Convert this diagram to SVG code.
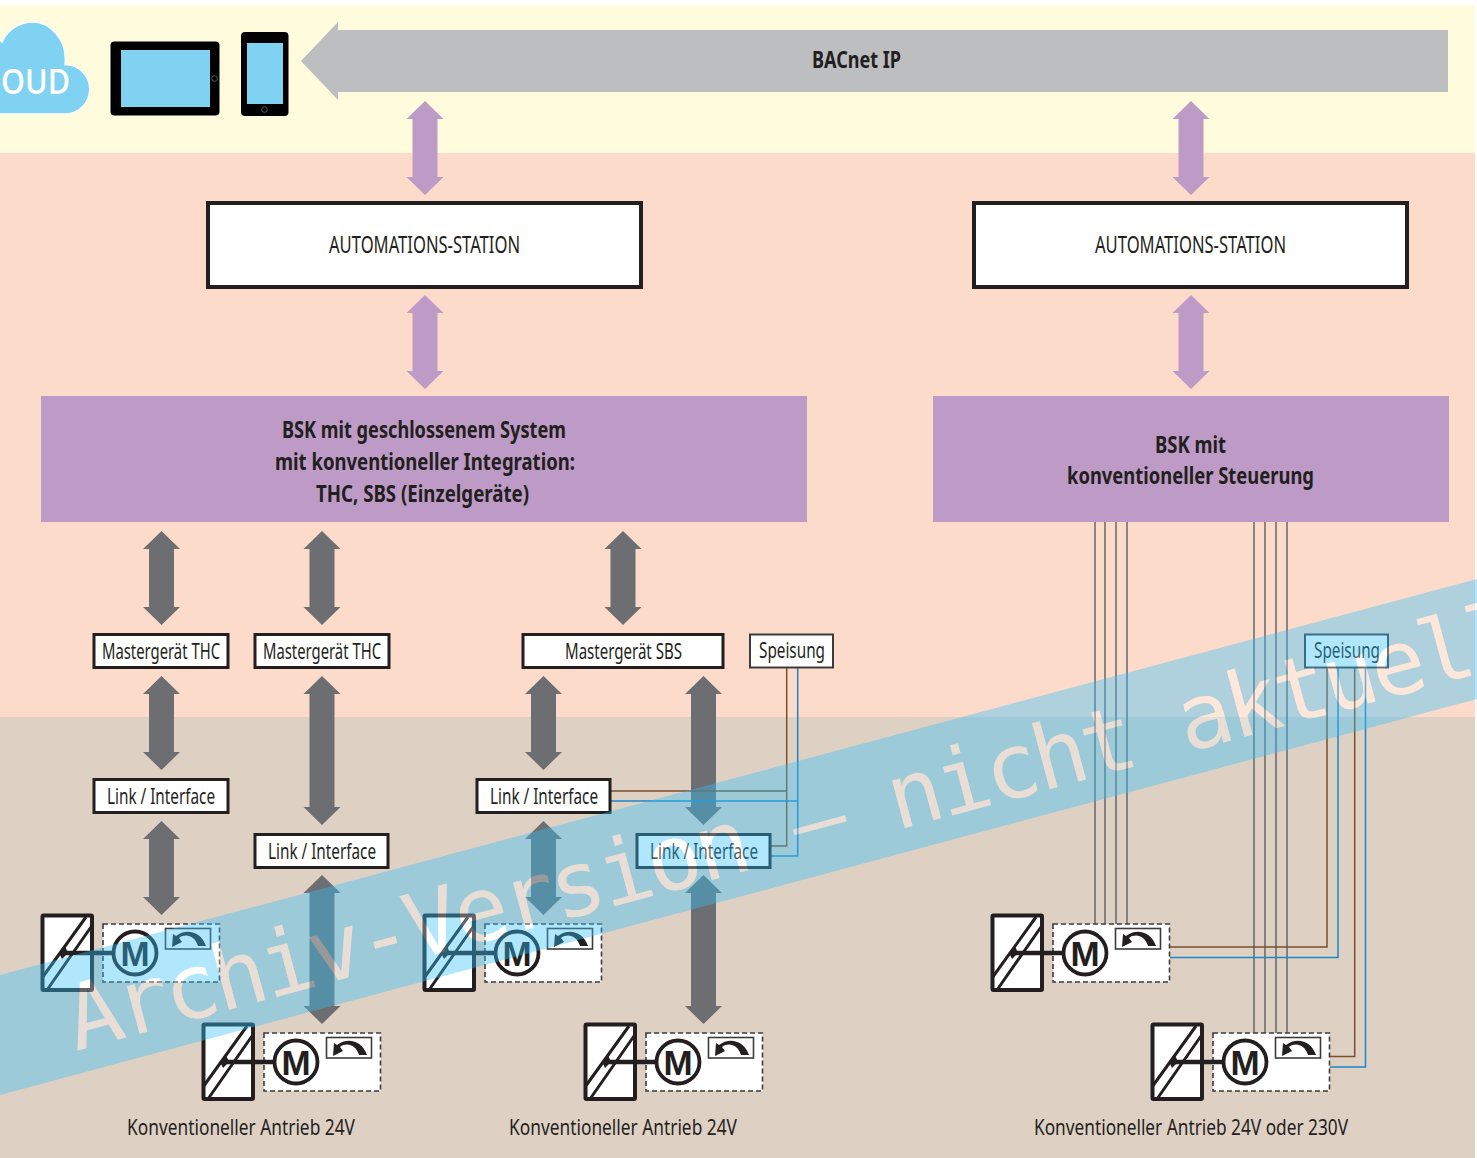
<svg xmlns="http://www.w3.org/2000/svg" xmlns:xlink="http://www.w3.org/1999/xlink" width="1477" height="1158" viewBox="0 0 1477 1158">
<style>
text{font-family:"Noto Sans","Liberation Sans",sans-serif;fill:#231f20;text-anchor:start}
.b{font-weight:700}
.s{font-size:22px}
.l{font-size:24px}
.box{fill:#fff;stroke:#231f20;stroke-width:3}
.thick{fill:#fff;stroke:#231f20;stroke-width:4}
.thin{fill:#fff;stroke:#3d3b3c;stroke-width:2}
.gray{fill:#6d6e71}
.pur{fill:#bd9bc6}
.wg{fill:none;stroke:#6d6e71;stroke-width:1.6}
.wb{fill:none;stroke:#7a4f2a;stroke-width:1.5}
.wl{fill:none;stroke:#1b87c9;stroke-width:1.5}
.m{font-family:"Liberation Sans",sans-serif;font-weight:700;font-size:35px;text-anchor:middle}
</style>
<defs>
<polygon id="da94" points="0,0 18.5,18 12.5,18 12.5,76 18.5,76 0,94 -18.5,76 -12.5,76 -12.5,18 -18.5,18"/>
<polygon id="da149" points="0,0 18.5,18 12.5,18 12.5,131 18.5,131 0,149 -18.5,131 -12.5,131 -12.5,18 -18.5,18"/>
<g id="act">
<rect x="42.500" y="915.500" width="49.500" height="74.500" rx="1" fill="#fff" stroke="#231f20" stroke-width="4"/>
<path d="M42 978L86 917M47 990L91 927" fill="none" stroke="#231f20" stroke-width="3"/>
<path d="M59 953L65 946L68 953L62 959Z" fill="#231f20"/>
<rect x="103" y="924" width="116.500" height="58" fill="#fff" stroke="#3d3b3c" stroke-width="1.600" stroke-dasharray="5 3"/>
<path d="M63 953H114" fill="none" stroke="#231f20" stroke-width="4.500"/>
<circle cx="135" cy="953" r="21.500" fill="#fff" stroke="#231f20" stroke-width="3.800"/>
<rect x="165.500" y="928.500" width="45" height="20.500" fill="#fff" stroke="#3d3b3c" stroke-width="1.600"/>
<path d="M206 946H198C195 936 186 933 179 938L182 942L172 947L173 934L176 936C186 928 201 931 206 946Z" fill="#231f20"/>
</g>
<g id="hit"><text id="wm" transform="translate(76 1051) rotate(-15.050)" font-size="90" letter-spacing="-4.200" style="font-family:'DejaVu Sans Mono',monospace;fill:inherit">Archiv-Version – nicht aktuell</text></g>
<mask id="cut" maskUnits="userSpaceOnUse" x="0" y="0" width="1477" height="1158"><rect width="1477" height="1158" fill="#fff"/><use xlink:href="#wm" href="#wm" fill="#000"/></mask>
</defs>

<g id="background">
<rect width="1477" height="1158" fill="#fff"/>
<rect y="5" width="1475" height="148" fill="#fffcdd"/>
<rect y="153" width="1475" height="564" fill="#fddbcb"/>
<rect y="717" width="1475" height="441" fill="#dfd0c4"/>
</g>

<g id="cloud">
<path d="M-2 114H65A24.500 24.500 0 0 0 65 64.500C68 40 50 22 33 22C18 22 7 31 2 42L-2 38Z" fill="#7fd2f1" stroke="#fff" stroke-width="1.500"/>
<text x="1" y="94" style="font-family:'Open Sans','Noto Sans',sans-serif;fill:#fff;font-size:34px;font-weight:600" textLength="69" lengthAdjust="spacingAndGlyphs">OUD</text>
</g>
<g id="tablet">
<rect x="110.500" y="41.500" width="109" height="74" rx="4" fill="#000"/>
<rect x="121" y="50" width="89" height="57" fill="#7fd2f1"/>
<circle cx="214.500" cy="78.500" r="2.800" fill="none" stroke="#58595b"/>
</g>
<g id="phone">
<rect x="241" y="32" width="47.500" height="84" rx="4" fill="#000"/>
<rect x="247" y="43" width="36" height="61" fill="#7fd2f1"/>
<circle cx="264.500" cy="109.500" r="2.800" fill="none" stroke="#58595b"/>
</g>
<g id="bacnet">
<polygon points="301,61 338,22 338,30 1448,30 1448,92 338,92 338,100" fill="#bcbec0"/>
<text class="l b" x="812" y="68" textLength="89" lengthAdjust="spacingAndGlyphs">BACnet IP</text>
</g>

<g id="connectors">
<use href="#da94" class="pur" x="425" y="101"/>
<use href="#da94" class="pur" x="425" y="295"/>
<use href="#da94" class="pur" x="1191" y="101"/>
<use href="#da94" class="pur" x="1191" y="295"/>
<use href="#da94" class="gray" x="161.500" y="531"/>
<use href="#da94" class="gray" x="322" y="531"/>
<use href="#da94" class="gray" x="623" y="531"/>
<use href="#da94" class="gray" x="161.500" y="676"/>
<use href="#da149" class="gray" x="322" y="676"/>
<use href="#da94" class="gray" x="543.500" y="676"/>
<use href="#da149" class="gray" x="703.500" y="676"/>
<use href="#da94" class="gray" x="161.500" y="821"/>
<use href="#da149" class="gray" x="322" y="875"/>
<use href="#da94" class="gray" x="543.500" y="821"/>
<use href="#da149" class="gray" x="703.500" y="875"/>
<path class="wb" d="M611 791H786.700M786.700 668V846H771"/>
<path class="wl" d="M611 801H797.700M797.700 668V856H771"/>
<path class="wg" d="M1095 522V924M1105 522V924M1116 522V924M1127 522V924M1254 522V1033M1265 522V1033M1276 522V1033M1287 522V1033"/>
<path class="wb" d="M1327 668V947H1170M1354.700 668V1056.500H1330"/>
<path class="wl" d="M1338 668V957.500H1170M1365.500 668V1067H1330"/>
</g>

<g id="as1"><rect class="thick" x="208" y="203" width="433" height="84"/><text class="l" x="329" y="253" textLength="191" lengthAdjust="spacingAndGlyphs">AUTOMATIONS-STATION</text></g>
<g id="as2"><rect class="thick" x="974" y="203" width="433" height="84"/><text class="l" x="1095" y="253" textLength="191" lengthAdjust="spacingAndGlyphs">AUTOMATIONS-STATION</text></g>
<g id="bsk1"><rect class="pur" x="41" y="396" width="766" height="126"/>
<text class="l b" x="282" y="438" textLength="284" lengthAdjust="spacingAndGlyphs">BSK mit geschlossenem System</text>
<text class="l b" x="275" y="470" textLength="300" lengthAdjust="spacingAndGlyphs">mit konventioneller Integration:</text>
<text class="l b" x="316" y="502" textLength="213" lengthAdjust="spacingAndGlyphs">THC, SBS (Einzelgeräte)</text></g>
<g id="bsk2"><rect class="pur" x="933" y="396" width="516" height="126"/>
<text class="l b" x="1155" y="453" textLength="71" lengthAdjust="spacingAndGlyphs">BSK mit</text>
<text class="l b" x="1067" y="484" textLength="247" lengthAdjust="spacingAndGlyphs">konventioneller Steuerung</text></g>

<g id="m1"><rect class="box" x="94" y="634.500" width="134" height="33"/><text class="s" x="102" y="659" textLength="118" lengthAdjust="spacingAndGlyphs">Mastergerät THC</text></g>
<g id="m2"><rect class="box" x="255" y="634.500" width="134" height="33"/><text class="s" x="263" y="659" textLength="118" lengthAdjust="spacingAndGlyphs">Mastergerät THC</text></g>
<g id="m3"><rect class="box" x="523" y="634.500" width="200" height="33"/><text class="s" x="565" y="659" textLength="117" lengthAdjust="spacingAndGlyphs">Mastergerät SBS</text></g>
<g id="sp1"><rect class="thin" x="750" y="634.500" width="83" height="33"/><text class="s" x="759" y="658" textLength="66" lengthAdjust="spacingAndGlyphs">Speisung</text></g>
<g id="sp2"><rect class="thin" x="1305" y="634.500" width="83" height="33"/><text class="s" x="1314" y="658" textLength="66" lengthAdjust="spacingAndGlyphs">Speisung</text></g>
<g id="l1"><rect class="box" x="94" y="779.500" width="134" height="33"/><text class="s" x="107" y="804" textLength="108" lengthAdjust="spacingAndGlyphs">Link / Interface</text></g>
<g id="l2"><rect class="box" x="255" y="834.500" width="133" height="33"/><text class="s" x="268" y="859" textLength="108" lengthAdjust="spacingAndGlyphs">Link / Interface</text></g>
<g id="l3"><rect class="box" x="477" y="779.500" width="133" height="33"/><text class="s" x="490" y="804" textLength="108" lengthAdjust="spacingAndGlyphs">Link / Interface</text></g>
<g id="l4"><rect class="box" x="637" y="834.500" width="133" height="33"/><text class="s" x="650" y="859" textLength="108" lengthAdjust="spacingAndGlyphs">Link / Interface</text></g>

<g id="a1"><use href="#act"/><text class="m" x="135" y="965.500">M</text></g>
<g id="a2" transform="translate(161 109)"><use href="#act"/><text class="m" x="135" y="965.500">M</text></g>
<g id="a3" transform="translate(382 0)"><use href="#act"/><text class="m" x="135" y="965.500">M</text></g>
<g id="a4" transform="translate(543 109)"><use href="#act"/><text class="m" x="135" y="965.500">M</text></g>
<g id="a5" transform="translate(950 0)"><use href="#act"/><text class="m" x="135" y="965.500">M</text></g>
<g id="a6" transform="translate(1110 109)"><use href="#act"/><text class="m" x="135" y="965.500">M</text></g>

<g id="captions">
<text class="s" x="127" y="1135" textLength="228" lengthAdjust="spacingAndGlyphs">Konventioneller Antrieb 24V</text>
<text class="s" x="509" y="1135" textLength="228" lengthAdjust="spacingAndGlyphs">Konventioneller Antrieb 24V</text>
<text class="s" x="1034" y="1135" textLength="314" lengthAdjust="spacingAndGlyphs">Konventioneller Antrieb 24V oder 230V</text>
</g>

<g id="watermark">
<polygon points="0,975 1477,579 1477,699 0,1095" fill="#33c0f9" fill-opacity=".39" mask="url(#cut)"/>
<use href="#wm" fill="#fff" fill-opacity=".3"/>
</g>
</svg>
